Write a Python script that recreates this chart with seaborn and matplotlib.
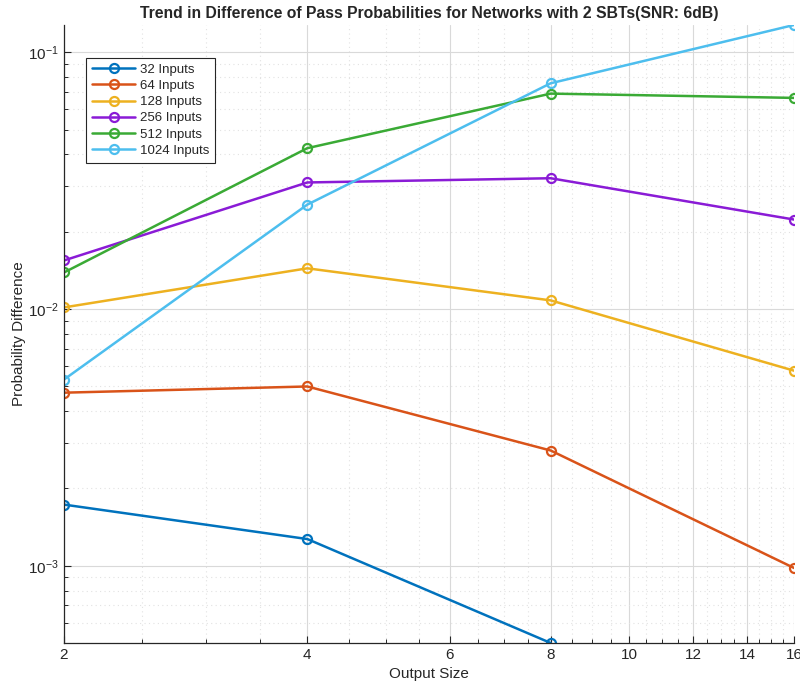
import numpy as np
import pandas as pd
import matplotlib
matplotlib.use("Agg")
import matplotlib.pyplot as plt
import seaborn as sns
from matplotlib.ticker import FixedLocator, MultipleLocator, NullFormatter, LogLocator

output_sizes = [2, 4, 8, 16]
series_labels = ["32 Inputs", "64 Inputs", "128 Inputs", "256 Inputs", "512 Inputs", "1024 Inputs"]
vals_32 = [1.73e-3, 1.27e-3, 5.0e-4, np.nan]
vals_64 = [4.72e-3, 4.99e-3, 2.81e-3, 0.98e-3]
vals_128 = [1.014e-2, 1.44e-2, 1.08e-2, 5.75e-3]
vals_256 = [1.545e-2, 3.11e-2, 3.23e-2, 2.23e-2]
vals_512 = [1.387e-2, 4.23e-2, 6.90e-2, 6.64e-2]
vals_1024 = [5.31e-3, 2.55e-2, 7.57e-2, 0.1277]
colors = ["#0072BD", "#D95319", "#EDB120", "#8A1BD6", "#3AAA35", "#4DBEEE"]
x_ticks = [2, 4, 6, 8, 10, 12, 14, 16]

all_vals = [vals_32, vals_64, vals_128, vals_256, vals_512, vals_1024]
df = pd.concat([
    pd.DataFrame({"Output Size": output_sizes, "Probability Difference": v, "Series": lab})
    for v, lab in zip(all_vals, series_labels)
], ignore_index=True)

sns.set_theme(style="white")
plt.rcParams['font.family'] = ['Liberation Sans', 'DejaVu Sans']
plt.rcParams['mathtext.fontset'] = 'custom'
plt.rcParams['mathtext.rm'] = 'Liberation Sans'
plt.rcParams['mathtext.it'] = 'Liberation Sans:italic'
plt.rcParams['mathtext.bf'] = 'Liberation Sans:bold'
plt.rcParams['mathtext.default'] = 'regular'
plt.rcParams['axes.unicode_minus'] = False

fig = plt.figure(figsize=(8.0, 6.86), dpi=100)
ax = fig.add_axes([0.08, 0.0627, 0.9125, 0.9009])

for lab, col in zip(series_labels, colors):
    sub = df[df["Series"] == lab].dropna()
    sns.lineplot(data=sub, x="Output Size", y="Probability Difference", ax=ax,
                 color=col, marker="o", markersize=6.5, markerfacecolor="none",
                 markeredgecolor=col, markeredgewidth=1.6, linewidth=1.8, label=lab)

ax.set_xscale("log", base=2)
ax.set_yscale("log")
ax.set_xlim(2, 16)
finite = df["Probability Difference"].dropna()
ax.set_ylim(finite.min(), finite.max())

ax.xaxis.set_major_locator(FixedLocator(x_ticks))
ax.set_xticklabels([str(t) for t in x_ticks])
ax.xaxis.set_minor_locator(MultipleLocator(0.5))
ax.xaxis.set_minor_formatter(NullFormatter())
ax.yaxis.set_major_locator(LogLocator(base=10, numticks=10))
ax.yaxis.set_minor_locator(LogLocator(base=10, subs=np.arange(2, 10), numticks=10))
ax.yaxis.set_minor_formatter(NullFormatter())

ax.grid(True, which="major", color="#d9d9d9", linewidth=0.8, linestyle="-")
ax.grid(True, which="minor", color="#e2e2e2", linewidth=0.8, linestyle=(0, (1, 3)))
ax.set_axisbelow(True)

for s in ["top", "right"]:
    ax.spines[s].set_visible(False)
for s in ["left", "bottom"]:
    ax.spines[s].set_color("#262626")
    ax.spines[s].set_linewidth(0.9)

ax.tick_params(axis="both", which="major", direction="in", length=5, width=0.8,
               colors="#262626", labelsize=11, left=True, bottom=True)
ax.tick_params(axis="both", which="minor", direction="in", length=3, width=0.7,
               colors="#262626", left=True, bottom=True)

ax.set_xlabel("Output Size", fontsize=11, color="#262626", labelpad=4)
ax.set_ylabel("Probability Difference", fontsize=11, color="#262626", labelpad=2)
ax.set_title("Trend in Difference of Pass Probabilities for Networks with 2 SBTs(SNR: 6dB)",
             fontsize=11.3, fontweight="bold", color="#262626", pad=5)

leg = ax.legend(loc="upper left", bbox_to_anchor=(0.03, 0.947), fontsize=9.5,
                frameon=True, fancybox=False, borderpad=0.45, labelspacing=0.3,
                handlelength=3.3, handletextpad=0.35, borderaxespad=0)
leg.get_frame().set_edgecolor("#262626")
leg.get_frame().set_linewidth(0.8)
leg.get_frame().set_alpha(1)

fig.savefig("out.png", dpi=100)
